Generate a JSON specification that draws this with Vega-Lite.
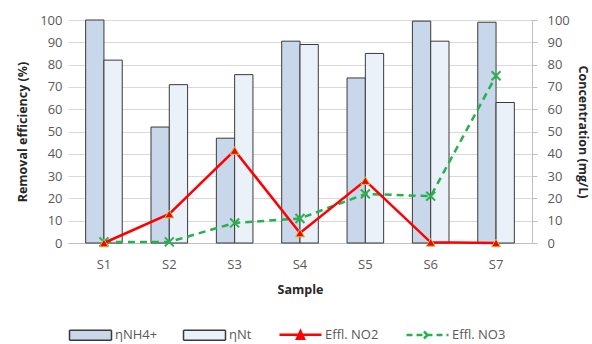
{
  "$schema": "https://vega.github.io/schema/vega-lite/v6.json",
  "width": 464,
  "height": 223,
  "autosize": "none",
  "padding": {"left": 68, "top": 20, "right": 60, "bottom": 101},
  "background": "white",
  "config": {
    "font": "Open Sans",
    "view": {"stroke": null},
    "axis": {
      "labelFont": "Open Sans",
      "titleFont": "Open Sans",
      "labelColor": "#595959",
      "titleColor": "#262626",
      "labelFontSize": 13,
      "titleFontSize": 12.5,
      "titleFontWeight": "bold",
      "gridColor": "#D9D9D9",
      "domainColor": "#BFBFBF",
      "tickColor": "#BFBFBF",
      "ticks": false
    },
    "legend": {"labelFont": "Open Sans"}
  },
  "datasets": {
    "bars": [
      {"sample": "S1", "series": "ηNH4+", "value": 100},
      {"sample": "S1", "series": "ηNt", "value": 82},
      {"sample": "S2", "series": "ηNH4+", "value": 52},
      {"sample": "S2", "series": "ηNt", "value": 71},
      {"sample": "S3", "series": "ηNH4+", "value": 47},
      {"sample": "S3", "series": "ηNt", "value": 75.5},
      {"sample": "S4", "series": "ηNH4+", "value": 90.5},
      {"sample": "S4", "series": "ηNt", "value": 89},
      {"sample": "S5", "series": "ηNH4+", "value": 74},
      {"sample": "S5", "series": "ηNt", "value": 85},
      {"sample": "S6", "series": "ηNH4+", "value": 99.5},
      {"sample": "S6", "series": "ηNt", "value": 90.5},
      {"sample": "S7", "series": "ηNH4+", "value": 99},
      {"sample": "S7", "series": "ηNt", "value": 63}
    ],
    "lines": [
      {"sample": "S1", "series": "Effl. NO2", "value": 0},
      {"sample": "S2", "series": "Effl. NO2", "value": 13},
      {"sample": "S3", "series": "Effl. NO2", "value": 41.5},
      {"sample": "S4", "series": "Effl. NO2", "value": 4.5},
      {"sample": "S5", "series": "Effl. NO2", "value": 28},
      {"sample": "S6", "series": "Effl. NO2", "value": 0.3},
      {"sample": "S7", "series": "Effl. NO2", "value": 0},
      {"sample": "S1", "series": "Effl. NO3", "value": 0.5},
      {"sample": "S2", "series": "Effl. NO3", "value": 0.5},
      {"sample": "S3", "series": "Effl. NO3", "value": 9},
      {"sample": "S4", "series": "Effl. NO3", "value": 11},
      {"sample": "S5", "series": "Effl. NO3", "value": 22},
      {"sample": "S6", "series": "Effl. NO3", "value": 21},
      {"sample": "S7", "series": "Effl. NO3", "value": 75}
    ]
  },
  "layer": [
    {
      "data": {"name": "bars"},
      "mark": {"type": "bar", "stroke": "#3A3A3A", "strokeWidth": 1},
      "encoding": {
        "x": {
          "field": "sample",
          "type": "nominal",
          "scale": {"paddingInner": 0.44, "paddingOuter": 0.27},
          "axis": {"title": "Sample", "labelAngle": 0, "labelPadding": 15, "titlePadding": 12, "domain": true}
        },
        "xOffset": {"field": "series", "type": "nominal", "sort": ["ηNH4+", "ηNt"]},
        "y": {
          "field": "value",
          "type": "quantitative",
          "scale": {"domain": [0, 100]},
          "axis": {
            "title": "Removal efficiency (%)",
            "values": [0, 10, 20, 30, 40, 50, 60, 70, 80, 90, 100],
            "domain": false,
            "labelPadding": 6,
            "titlePadding": 10
          }
        },
        "fill": {
          "field": "series",
          "type": "nominal",
          "scale": {
            "domain": ["ηNH4+", "ηNt", "Effl. NO2", "Effl. NO3"],
            "range": ["#C9D7EA", "#EBF1F9", "#FF0000", "#27B04D"]
          },
          "legend": {
            "orient": "bottom",
            "direction": "horizontal",
            "title": null,
            "offset": 32,
            "symbolSize": 100,
            "labelOffset": 34,
            "columnPadding": 22,
            "labelFontSize": 13,
            "labelColor": "#595959",
            "symbolType": {"expr": "(datum.value === 'ηNH4+' || datum.value === 'ηNt') ? 'M-1,-1H7.4V1H-1Z' : (datum.value === 'Effl. NO2' ? 'M-1,0H7.4M2.5,0.8L3.2,-0.7L3.9,0.8Z' : 'M-1,0H7.4M2.5,-0.7L3.9,0.7M2.5,0.7L3.9,-0.7')"},
            "symbolStrokeColor": {"expr": "(datum.value === 'ηNH4+' || datum.value === 'ηNt') ? '#3A3A3A' : (datum.value === 'Effl. NO2' ? '#FF0000' : '#27B04D')"},
            "symbolStrokeWidth": {"expr": "(datum.value === 'ηNH4+' || datum.value === 'ηNt') ? 1.5 : 2.5"},
            "symbolDash": {"expr": "datum.value === 'Effl. NO3' ? [6, 4] : [1, 0]"}
          }
        }
      }
    },
    {
      "data": {"name": "lines"},
      "encoding": {
        "x": {"field": "sample", "type": "nominal"},
        "y": {
          "field": "value",
          "type": "quantitative",
          "scale": {"domain": [0, 100]},
          "axis": {
            "orient": "right",
            "title": "Concentration (mg/L)",
            "values": [0, 10, 20, 30, 40, 50, 60, 70, 80, 90, 100],
            "grid": false,
            "domain": true,
            "ticks": true,
            "tickSize": 5,
            "labelPadding": 10,
            "titlePadding": 6
          }
        }
      },
      "layer": [
        {
          "transform": [{"filter": "datum.series === 'Effl. NO3'"}],
          "mark": {"type": "line", "color": "#27B04D", "strokeWidth": 2.5, "strokeDash": [7, 5]}
        },
        {
          "transform": [{"filter": "datum.series === 'Effl. NO3'"}],
          "mark": {"type": "point", "shape": "M-1,-1L1,1M-1,1L1,-1", "filled": false, "stroke": "#27B04D", "strokeWidth": 2, "size": 80, "opacity": 1}
        },
        {
          "transform": [{"filter": "datum.series === 'Effl. NO2'"}],
          "mark": {"type": "line", "color": "#FF0000", "strokeWidth": 2.5}
        },
        {
          "transform": [{"filter": "datum.series === 'Effl. NO2'"}],
          "mark": {"type": "point", "shape": "triangle-up", "filled": true, "fill": "#FF0000", "stroke": "#B9C94A", "strokeWidth": 1, "size": 80, "opacity": 1}
        }
      ]
    }
  ],
  "resolve": {"scale": {"y": "independent"}}
}
